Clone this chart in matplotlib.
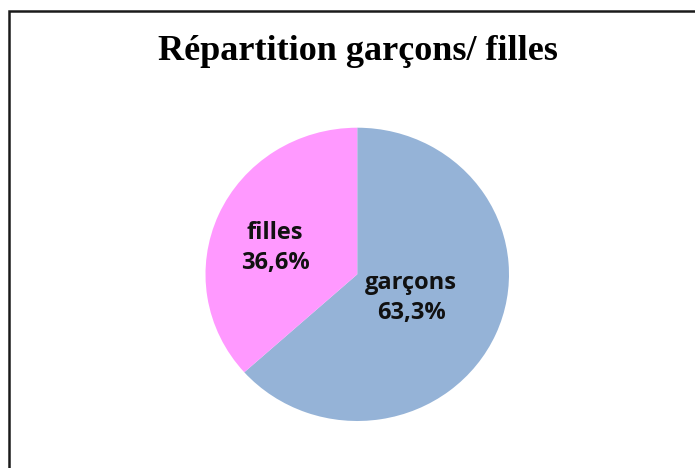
import matplotlib
matplotlib.use("Agg")
import matplotlib.pyplot as plt
from matplotlib.patches import Rectangle

title = "Répartition garçons/ filles"
categories = ["garçons", "filles"]
values = [63.3, 36.6]
pct_labels = ["63,3%", "36,6%"]
colors = ["#95B3D7", "#FF99FF"]

W, H = 695, 468
fig = plt.figure(figsize=(W / 100, H / 100), dpi=100)
fig.patch.set_facecolor("white")

# chart frame
fig.patches.append(Rectangle((8.5 / W, -0.05), 1.0, (H - 10.5) / H + 0.05,
                             transform=fig.transFigure, fill=False,
                             edgecolor="#1a1a1a", linewidth=1.8))

fig.text(357.5 / W, 1 - 52 / H, title, ha="center", va="center",
         family="Liberation Serif", fontweight="bold", fontsize=26)

# pie axes in pixel box
left, right, top, bottom = 205.5, 509.0, 127.7, 421.0
ax = fig.add_axes([left / W, 1 - bottom / H, (right - left) / W, (bottom - top) / H])
wedges, _ = ax.pie(values, colors=colors, startangle=90, counterclock=False,
                   radius=1.0, wedgeprops=dict(linewidth=0))
ax.set_aspect("auto")
ax.set_xlim(-1, 1)
ax.set_ylim(-1, 1)
ax.axis("off")

label_pos = [(411, 298), (275, 248)]
for (px, py), cat, pl in zip(label_pos, categories, pct_labels):
    fig.text(px / W, 1 - py / H, f"{cat}\n{pl}", ha="center", va="center",
             family="Open Sans", fontweight="bold", fontsize=17,
             linespacing=1.3, color="#111111")

fig.savefig("out.png", dpi=100, facecolor="white")
